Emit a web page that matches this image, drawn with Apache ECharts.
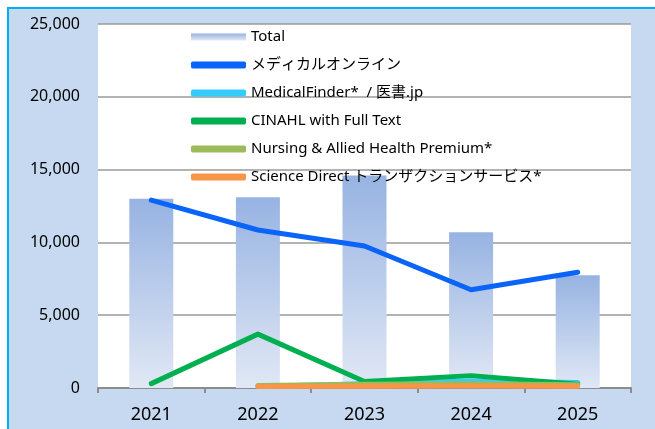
<!DOCTYPE html>
<html>
<head>
<meta charset="utf-8">
<script src="https://cdn.jsdelivr.net/npm/echarts@6/dist/echarts.min.js"></script>
<style>html,body{margin:0;padding:0;background:#fff}#c{width:655px;height:429px}</style>
</head>
<body>
<div id="c"></div>
<script>
const years = ['2021', '2022', '2023', '2024', '2025'];
const totalValues = [13000, 13100, 14600, 10700, 7750];
const medicalOnline = [12900, 10850, 9750, 6750, 7950];
const medicalFinder = [null, 100, 300, 480, 380];
const cinahl = [300, 3700, 450, 850, 250];
const nursing = [null, 180, 250, 300, 220];
const scienceDirect = [null, 100, 120, 130, 120];
const yTicks = [0, 5000, 10000, 15000, 20000, 25000];

const names = ['Total', 'メディカルオンライン', 'MedicalFinder*  / 医書.jp', 'CINAHL with Full Text', 'Nursing & Allied Health Premium*', 'Science Direct トランザクションサービス*'];
const font = "'Noto Sans', 'Noto Sans CJK JP', sans-serif";

function lineSeries(name, data, color) {
  return {
    name: name, type: 'line', data: data, showSymbol: false, symbol: 'none',
    connectNulls: false,
    lineStyle: { color: color, width: 5, cap: 'round', join: 'round' },
    itemStyle: { color: color },
    z: 3
  };
}

const chart = echarts.init(document.getElementById('c'), null, { renderer: 'canvas' });
chart.setOption({
  animation: false,
  backgroundColor: '#ffffff',
  graphic: [{
    type: 'rect', z: -10, silent: true,
    shape: { x: 8, y: 8, width: 700, height: 500 },
    style: { fill: '#c6d9f1', stroke: '#00b0f0', lineWidth: 2 }
  }],
  grid: { left: 98, right: 24, top: 24, bottom: 41, show: true, backgroundColor: '#ffffff', borderWidth: 0 },
  legend: {
    orient: 'vertical', left: 186, top: 24, itemWidth: 55, itemHeight: 7, itemGap: 12,
    textStyle: { fontFamily: font, fontSize: 15, color: '#000', lineHeight: 16 },
    data: [
      { name: names[0], icon: 'rect' },
      { name: names[1], icon: 'roundRect' },
      { name: names[2], icon: 'roundRect' },
      { name: names[3], icon: 'roundRect' },
      { name: names[4], icon: 'roundRect' },
      { name: names[5], icon: 'roundRect' }
    ]
  },
  xAxis: {
    type: 'category', data: years,
    axisLine: { lineStyle: { color: '#8c8c8c', width: 2 } },
    axisTick: { show: true, length: 5, lineStyle: { color: '#8c8c8c', width: 2 } },
    axisLabel: { fontFamily: font, fontSize: 18, color: '#000', margin: 18 }
  },
  yAxis: {
    type: 'value', min: yTicks[0], max: yTicks[yTicks.length - 1], interval: 5000,
    axisLine: { show: false }, axisTick: { show: false },
    splitLine: { lineStyle: { color: '#9a9a9a', width: 1.5 } },
    axisLabel: {
      fontFamily: font, fontSize: 16, color: '#000', margin: 18,
      formatter: v => v.toLocaleString('en-US')
    }
  },
  series: [
    {
      name: names[0], type: 'bar', data: totalValues, barWidth: 44, z: 2,
      itemStyle: {
        color: new echarts.graphic.LinearGradient(0, 0, 0, 1, [
          { offset: 0, color: '#97b3e2' },
          { offset: 1, color: '#e1e8f5' }
        ])
      }
    },
    lineSeries(names[1], medicalOnline, '#0a64f8'),
    lineSeries(names[2], medicalFinder, '#33ccff'),
    lineSeries(names[3], cinahl, '#00b050'),
    lineSeries(names[4], nursing, '#9bbb59'),
    lineSeries(names[5], scienceDirect, '#f79646')
  ]
});
</script>
</body>
</html>
